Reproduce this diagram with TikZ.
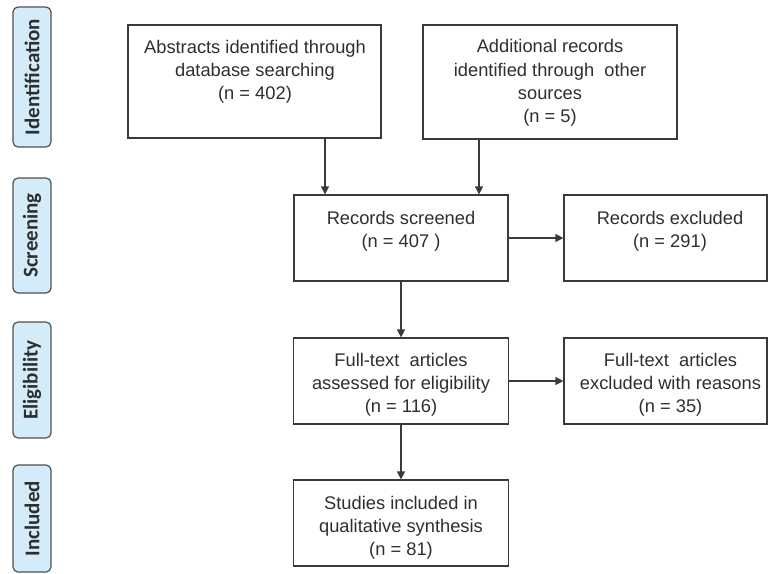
\documentclass[tikz,border=0pt]{standalone}
\usepackage{fontspec}
\setmainfont{Liberation Sans}
\newfontfamily\labfont{Carlito}
\usetikzlibrary{arrows.meta}
\definecolor{lineg}{HTML}{3A3A3A}
\definecolor{textg}{HTML}{2E2E2E}
\definecolor{labfill}{HTML}{D4ECFA}
\definecolor{labdraw}{HTML}{505050}
\tikzset{
  box/.style={draw=lineg, line width=1.2pt, inner sep=0pt},
  txt/.style={align=center, text=textg, font=\fontsize{18.3}{23.2}\selectfont, inner sep=0pt},
  arr/.style={draw=lineg, line width=1.2pt, -{Triangle[length=8pt,width=8pt]}},
  phase/.style={draw=labdraw, fill=labfill, line width=1.2pt, rounded corners=5pt, rotate=90,
     minimum height=38pt, inner sep=0pt, text=textg, font=\labfont\bfseries\fontsize{21}{24}\selectfont}
}
\begin{document}
\begin{tikzpicture}[x=1pt,y=-1pt]
\useasboundingbox (0,0) rectangle (768,573);
% phase labels
\node[phase, minimum width=140pt] (pid) at (32,77) {Identification};
\node[phase, minimum width=115pt] (psc) at (32,235.5) {Screening};
\node[phase, minimum width=116pt] (pel) at (32,380) {Eligibility};
\node[phase, minimum width=107pt] (pin) at (32,518.5) {Included};
% boxes
\node[box, minimum width=253pt, minimum height=113pt] (abs) at (254.5,81.5) {};
\node[box, minimum width=254pt, minimum height=114pt] (add) at (550,82) {};
\node[box, minimum width=214pt, minimum height=86pt] (scr) at (401,238) {};
\node[box, minimum width=203pt, minimum height=86pt] (exc) at (665.5,238) {};
\node[box, minimum width=215pt, minimum height=86pt] (ft) at (401,381) {};
\node[box, minimum width=203pt, minimum height=86pt] (fte) at (665.5,381) {};
\node[box, minimum width=215pt, minimum height=86pt] (stu) at (401,523) {};
% texts
\node[txt] (tabs) at (255,72) {Abstracts identified through\\database searching\\(n = 402)};
\node[txt] (tadd) at (550,83) {Additional records\\identified through\ \ other\\sources\\(n = 5)};
\node[txt] (tscr) at (401,231.5) {Records screened\\(n = 407 )};
\node[txt] (texc) at (670,231.5) {Records excluded\\(n = 291)};
\node[txt] (tft) at (401,385) {Full-text\ \ articles\\assessed for eligibility\\(n = 116)};
\node[txt] (tfte) at (670.5,385) {Full-text\ \ articles\\excluded with reasons\\(n = 35)};
\node[txt] (tstu) at (401,528) {Studies included in\\qualitative synthesis\\(n = 81)};
% connectors
\coordinate (c1) at (325,0);
\coordinate (c2) at (479,0);
\draw[arr] (c1 |- abs.south) -- (c1 |- scr.north);
\draw[arr] (c2 |- add.south) -- (c2 |- scr.north);
\draw[arr] (scr.east) -- (scr.east -| exc.west);
\draw[arr] (scr.south) -- (ft.north);
\draw[arr] (ft.east) -- (ft.east -| fte.west);
\draw[arr] (ft.south) -- (stu.north);
\end{tikzpicture}
\end{document}
